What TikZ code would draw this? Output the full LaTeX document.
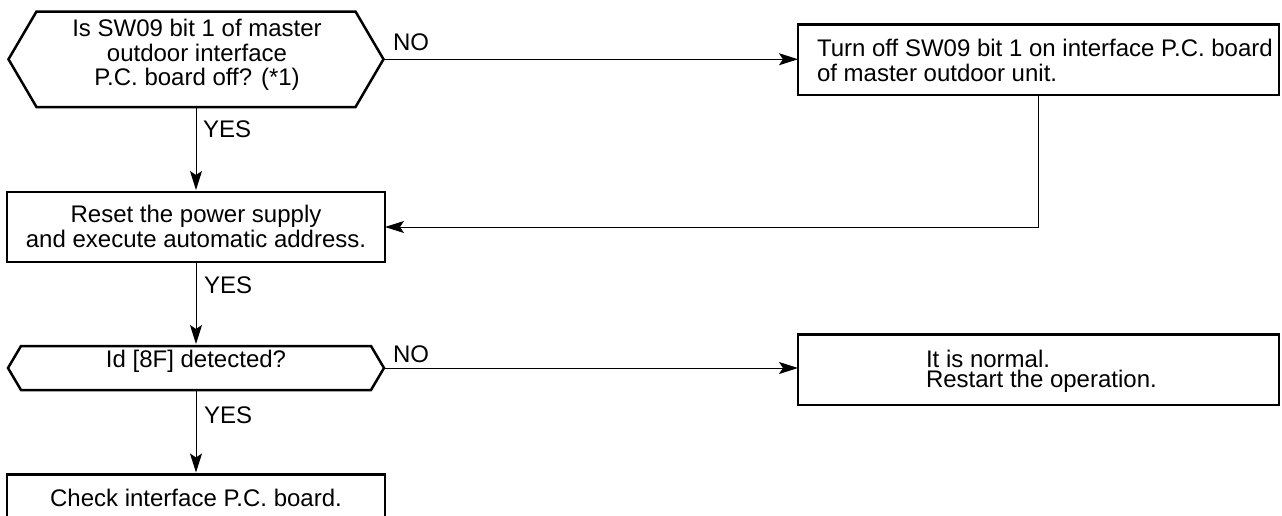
\documentclass[tikz,border=0pt]{standalone}
\usepackage{fontspec}
\setmainfont{Liberation Sans}
\usetikzlibrary{arrows.meta}
\begin{document}
\begin{tikzpicture}[x=1pt,y=-1pt,
  every node/.style={font=\fontsize{24}{24.3}\selectfont, inner sep=0pt, outer sep=0pt},
  boxnode/.style={draw, rectangle, line width=2.5pt},
  hexarea/.style={rectangle, draw=none},
  shapeline/.style={line width=2.5pt, line join=miter},
  txt/.style={align=center},
  lbl/.style={anchor=base west},
  conn/.style={line width=1pt, -{Stealth[length=19pt,width=12pt,inset=4pt]}}
]
\useasboundingbox (0,0) rectangle (1282,515);

% shapes
\node[hexarea, minimum width=375pt, minimum height=95.5pt] (d1) at (196,59.25) {};
\draw[shapeline] ([xshift=28pt]d1.north west) -- ([xshift=-28pt]d1.north east) -- (d1.east)
  -- ([xshift=-28pt]d1.south east) -- ([xshift=28pt]d1.south west) -- (d1.west) -- cycle;

\node[boxnode, minimum width=481pt, minimum height=70.5pt] (b2) at (1038.5,59.75) {};
\node[boxnode, minimum width=378pt, minimum height=70pt] (b3) at (196,227) {};

\node[hexarea, minimum width=376pt, minimum height=44pt] (d2) at (196,368) {};
\draw[shapeline] ([xshift=13pt]d2.north west) -- ([xshift=-13pt]d2.north east) -- (d2.east)
  -- ([xshift=-13pt]d2.south east) -- ([xshift=13pt]d2.south west) -- (d2.west) -- cycle;

\node[boxnode, minimum width=481pt, minimum height=70.5pt] (b4) at (1038.5,369.75) {};
\node[boxnode, minimum width=378pt, minimum height=55.5pt] (b5) at (196,502.25) {};

% texts
\node[txt] (t1) at (197,55) {Is SW09 bit 1 of master\\outdoor interface\\P.C. board off? (*1)};
\node[align=left, anchor=west] (t2) at (817,60.4) {Turn off SW09 bit 1 on interface P.C. board\\of master outdoor unit.};
\node[txt] (t3) at (196,226.4) {Reset the power supply\\and execute automatic address.};
\node[txt] (t5) at (196,361.75) {Id [8F] detected?};
\node[align=left, anchor=west, font=\fontsize{24}{20}\selectfont] (t4) at (926,371.5) {It is normal.\\Restart the operation.};
\node[txt] (t6) at (196,498.25) {Check interface P.C. board.};

% labels
\node[lbl] (y1) at (203,137) {YES};
\node[lbl] (y2) at (204,293) {YES};
\node[lbl] (y3) at (204,423) {YES};
\node[lbl] (n1) at (393,50) {NO};
\node[lbl] (n2) at (393,362) {NO};

% connectors
\draw[conn, shorten >=2pt] (d1.south) -- (b3.north);
\draw[conn, shorten >=2pt] (b3.south) -- (d2.north);
\draw[conn, shorten >=2pt] (d2.south) -- (b5.north);
\draw[conn] (d1.east) -- (d1.east -| b2.west);
\draw[conn] (d2.east) -- (d2.east -| b4.west);
\draw[conn] (b2.south) |- (b3.east);
\end{tikzpicture}
\end{document}
